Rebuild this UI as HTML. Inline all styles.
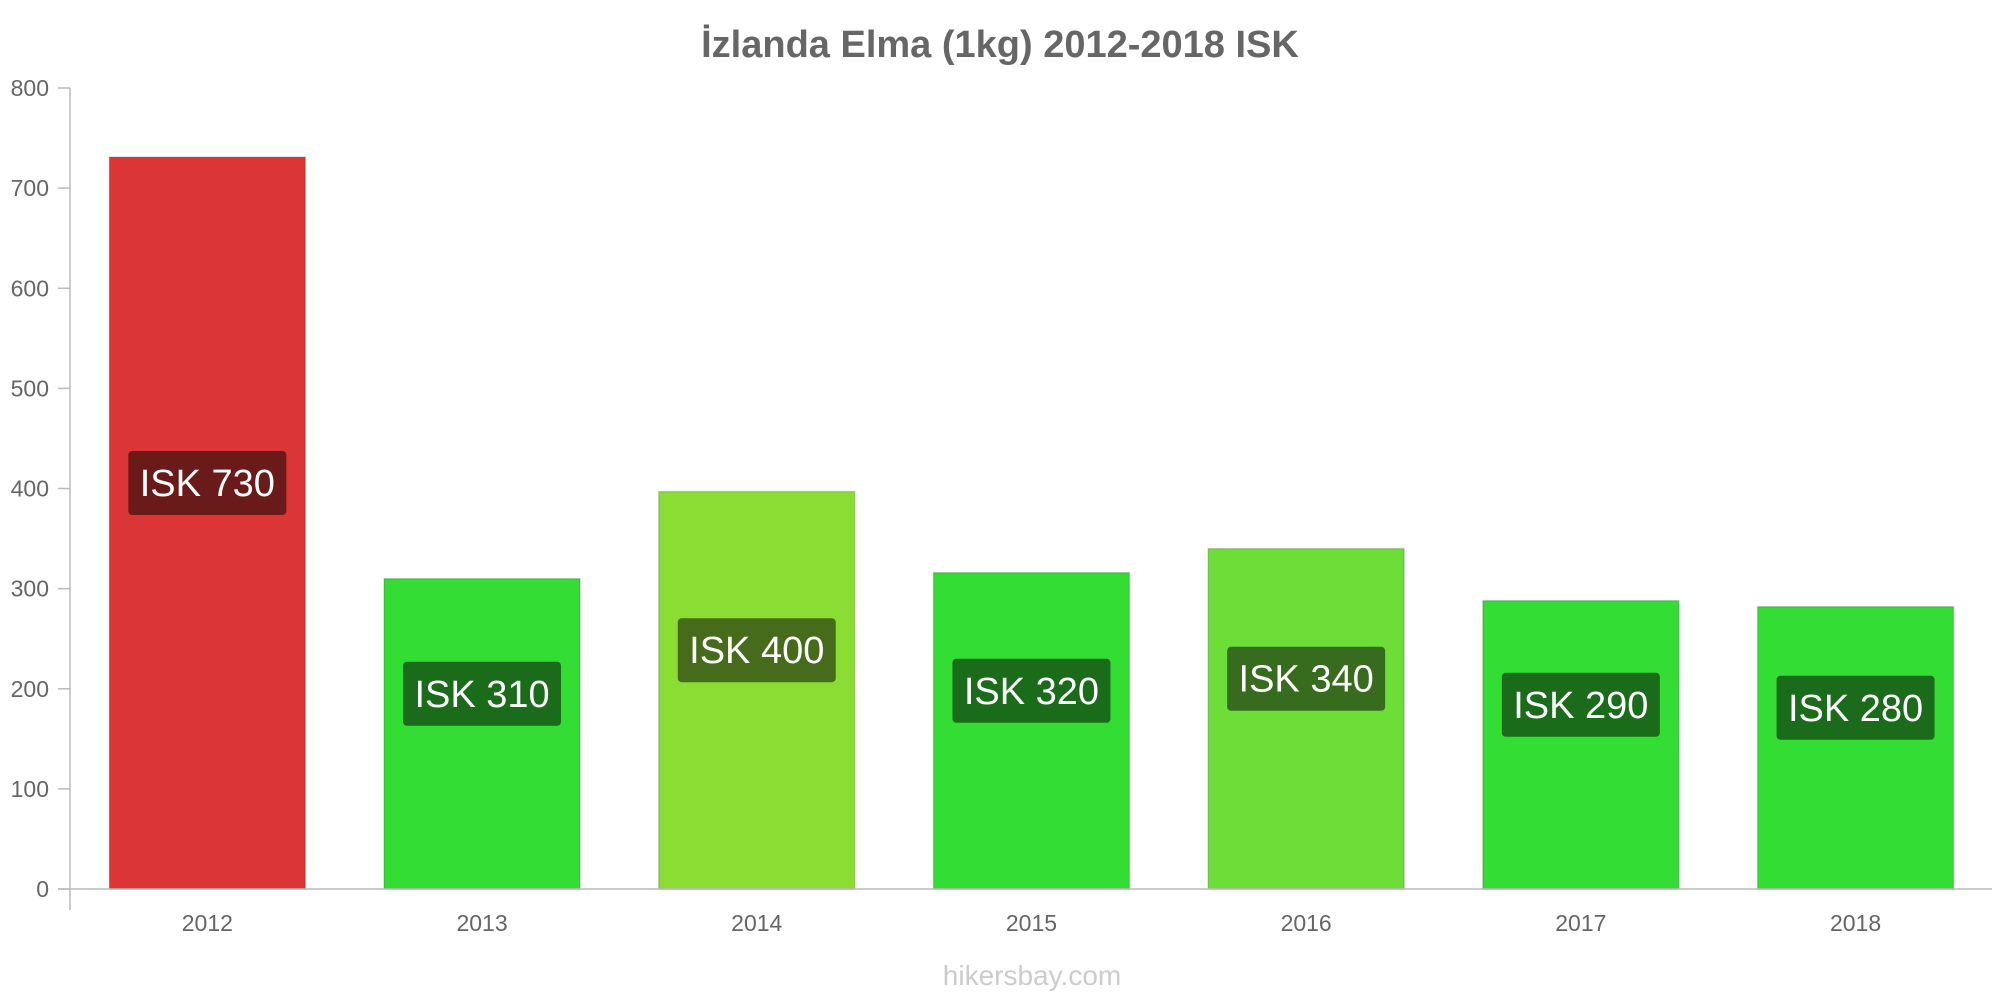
<!DOCTYPE html>
<html><head><meta charset="utf-8"><style>
body{margin:0;background:#fff;}
svg{display:block;font-family:"Liberation Sans",sans-serif;}
</style></head><body>
<svg id="chart" width="2000" height="1000">
<text x="1000" y="57" text-anchor="middle" font-size="38" font-weight="bold" fill="#666">İzlanda Elma (1kg) 2012-2018 ISK</text>
<g id="yaxis"></g>
<g id="bars"></g>
<line x1="70" y1="88" x2="70" y2="910" stroke="#bbb" stroke-width="1.5"/>
<line x1="58" y1="889" x2="1992" y2="889" stroke="#bbb" stroke-width="1.5"/>
<text x="1032" y="985" text-anchor="middle" font-size="28" fill="#ccc">hikersbay.com</text>
</svg>
<script>
const categories = ["2012","2013","2014","2015","2016","2017","2018"];
const values = [731, 310, 397, 316, 340, 288, 282];
const labels = ["ISK 730","ISK 310","ISK 400","ISK 320","ISK 340","ISK 290","ISK 280"];
const yTicks = [0,100,200,300,400,500,600,700,800];
const barColors = ["#dc3535","#33dd33","#8bdd33","#33dd33","#6ddd38","#33dd33","#33dd33"];
const labelColors = ["#6b1a1a","#1a6b1a","#466b1a","#1a6b1a","#376b1e","#1a6b1a","#1a6b1a"];
const NS="http://www.w3.org/2000/svg";
const y0=889, y800=88, xStart=70, step=274.7;
function yScale(v){return y0-(y0-y800)*v/800;}
function xCenter(i){return xStart+step*(i+0.5);}
const ya=document.getElementById('yaxis');
yTicks.forEach(t=>{
  const l=document.createElementNS(NS,'line');
  l.setAttribute('x1',58);l.setAttribute('x2',70);l.setAttribute('y1',yScale(t));l.setAttribute('y2',yScale(t));
  l.setAttribute('stroke','#bbb');l.setAttribute('stroke-width','1.5');
  
  
  ya.appendChild(l);
  const tx=document.createElementNS(NS,'text');
  tx.setAttribute('x',49);tx.setAttribute('y',yScale(t)+8);tx.setAttribute('text-anchor','end');
  tx.setAttribute('font-size','23');tx.setAttribute('fill','#666');tx.textContent=t;
  
  
  ya.appendChild(tx);
});
const bg=document.getElementById('bars');
const bw=196;
categories.forEach((c,i)=>{
  const cx=xCenter(i), v=values[i];
  const r=document.createElementNS(NS,'rect');
  r.setAttribute('x',cx-bw/2);r.setAttribute('y',yScale(v));r.setAttribute('width',bw);r.setAttribute('height',y0-yScale(v));
  r.setAttribute('fill',barColors[i]);r.setAttribute('stroke','rgba(0,0,0,0.15)');r.setAttribute('stroke-width','1.5');
  
  
  bg.appendChild(r);
  const ly=yScale(v/2+40);
  const lb=document.createElementNS(NS,'rect');
  lb.setAttribute('x',cx-79);lb.setAttribute('y',ly-32);lb.setAttribute('width',158);lb.setAttribute('height',64);
  lb.setAttribute('rx',4);lb.setAttribute('fill',labelColors[i]);
  
  
  bg.appendChild(lb);
  const lt=document.createElementNS(NS,'text');
  lt.setAttribute('x',cx);lt.setAttribute('y',ly+13);lt.setAttribute('text-anchor','middle');
  lt.setAttribute('font-size','38');lt.setAttribute('fill','#fff');lt.textContent=labels[i];
  
  
  bg.appendChild(lt);
  const xt=document.createElementNS(NS,'text');
  xt.setAttribute('x',cx);xt.setAttribute('y',931);xt.setAttribute('text-anchor','middle');
  xt.setAttribute('font-size','23');xt.setAttribute('fill','#666');xt.textContent=c;
  
  
  bg.appendChild(xt);
});
</script>
</body></html>
